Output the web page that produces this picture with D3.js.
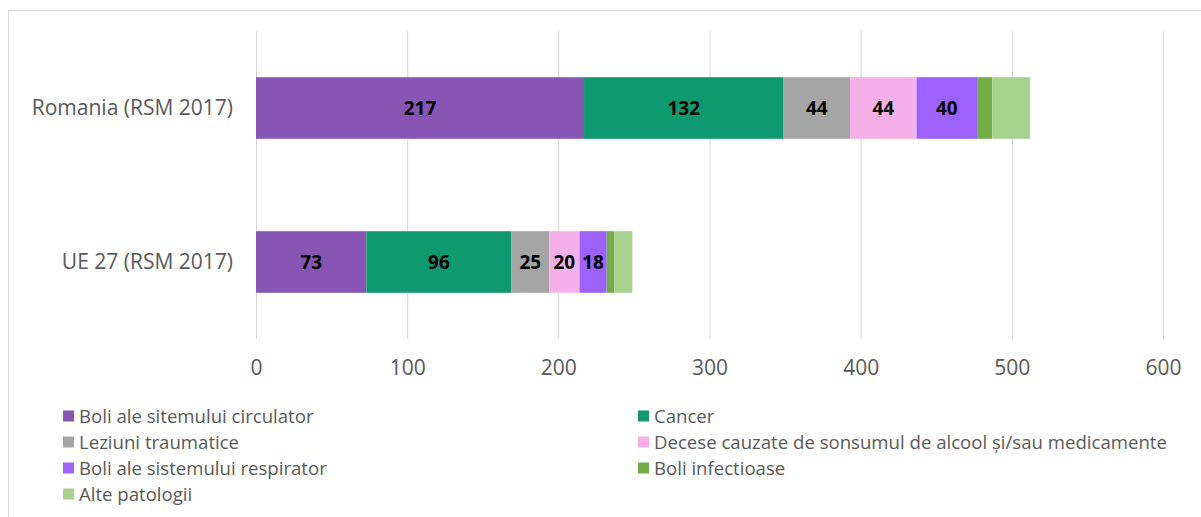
<!DOCTYPE html>
<html>
<head>
<meta charset="utf-8">
<script src="https://cdn.jsdelivr.net/npm/d3@7"></script>
<style>
  body { margin: 0; background: #fff; }
  svg { font-family: "Open Sans", sans-serif; }
</style>
</head>
<body>
<svg id="canvas"></svg>
<script>
// categories and series
const categories = ['Romania (RSM 2017)', 'UE 27 (RSM 2017)'];
const seriesNames = [
  'Boli ale sitemului circulator',
  'Cancer',
  'Leziuni traumatice',
  'Decese cauzate de sonsumul de alcool și/sau medicamente',
  'Boli ale sistemului respirator',
  'Boli infectioase',
  'Alte patologii'
];
const colors = ['#8756b5', '#0e9a6e', '#a5a5a5', '#f6b0e8', '#9d62fb', '#70ad47', '#a9d18e'];
const romaniaValues = [217, 132, 44, 44, 40, 10, 25];
const ueValues = [73, 96, 25, 20, 18, 5, 12];
const showLabel = [true, true, true, true, true, false, false];
const xTicks = [0, 100, 200, 300, 400, 500, 600];

const w = 1201;
const h = 517;

const svg = d3.select('#canvas').attr('width', w).attr('height', h);

// outer chart border
svg.append('rect')
  .attr('x', 8.5).attr('y', 10.5)
  .attr('width', w).attr('height', h)
  .attr('fill', 'none')
  .attr('stroke', '#d9d9d9');

const xScale = d3.scaleLinear().domain([0, 600]).range([256, 1163]);
const yScale = d3.scaleBand().domain(categories).range([31, 339]).paddingInner(0.6).paddingOuter(0.3);

// grid lines
svg.append('g')
  .selectAll('line')
  .data(xTicks)
  .enter()
  .append('line')
  .attr('x1', (d) => xScale(d) + 0.5)
  .attr('x2', (d) => xScale(d) + 0.5)
  .attr('y1', 31)
  .attr('y2', 339)
  .attr('stroke', '#d9d9d9')
  .attr('stroke-width', 1);

// stacked data
const rows = [romaniaValues, ueValues].map((vals, i) => {
  let acc = 0;
  return vals.map((v, j) => {
    const seg = { cat: categories[i], s: j, x0: acc, x1: acc + v, v: v };
    acc += v;
    return seg;
  });
});

rows.forEach((segs) => {
  const g = svg.append('g');
  g.selectAll('rect')
    .data(segs)
    .enter()
    .append('rect')
    .attr('x', (d) => xScale(d.x0))
    .attr('y', (d) => yScale(d.cat))
    .attr('width', (d) => xScale(d.x1) - xScale(d.x0))
    .attr('height', yScale.bandwidth())
    .attr('fill', (d) => colors[d.s]);

  g.selectAll('text')
    .data(segs.filter((d) => showLabel[d.s]))
    .enter()
    .append('text')
    .attr('x', (d) => (xScale(d.x0) + xScale(d.x1)) / 2)
    .attr('y', (d) => yScale(d.cat) + yScale.bandwidth() / 2)
    .attr('dy', '0.36em')
    .attr('text-anchor', 'middle')
    .attr('font-size', 19)
    .attr('font-weight', 'bold')
    .attr('fill', '#000')
    .text((d) => d.v);
});

// category labels
svg.append('g')
  .selectAll('text')
  .data(categories)
  .enter()
  .append('text')
  .attr('x', 233)
  .attr('y', (d) => yScale(d) + yScale.bandwidth() / 2)
  .attr('dy', '0.35em')
  .attr('text-anchor', 'end')
  .attr('font-size', 21)
  .attr('fill', '#595959')
  .text((d) => d);

// x axis
const xAxis = d3.axisBottom(xScale).tickValues(xTicks).tickSize(0).tickPadding(0);
const axisG = svg.append('g').attr('transform', 'translate(0,360)').call(xAxis);
axisG.select('.domain').remove();
axisG.selectAll('text')
  .attr('font-size', 21)
  .attr('font-family', '"Open Sans", sans-serif')
  .attr('fill', '#595959');

// legend
const legendPos = [
  [63, 416], [638, 416],
  [63, 442], [638, 442],
  [63, 468], [638, 468],
  [63, 494]
];
const legend = svg.append('g')
  .selectAll('g')
  .data(seriesNames)
  .enter()
  .append('g')
  .attr('transform', (d, i) => 'translate(' + legendPos[i][0] + ',' + legendPos[i][1] + ')');
legend.append('rect')
  .attr('x', 0).attr('y', -5.5)
  .attr('width', 11).attr('height', 11)
  .attr('fill', (d, i) => colors[i]);
legend.append('text')
  .attr('x', 16)
  .attr('dy', '0.35em')
  .attr('font-size', 18.6)
  .attr('fill', '#595959')
  .text((d) => d);
</script>
</body>
</html>
